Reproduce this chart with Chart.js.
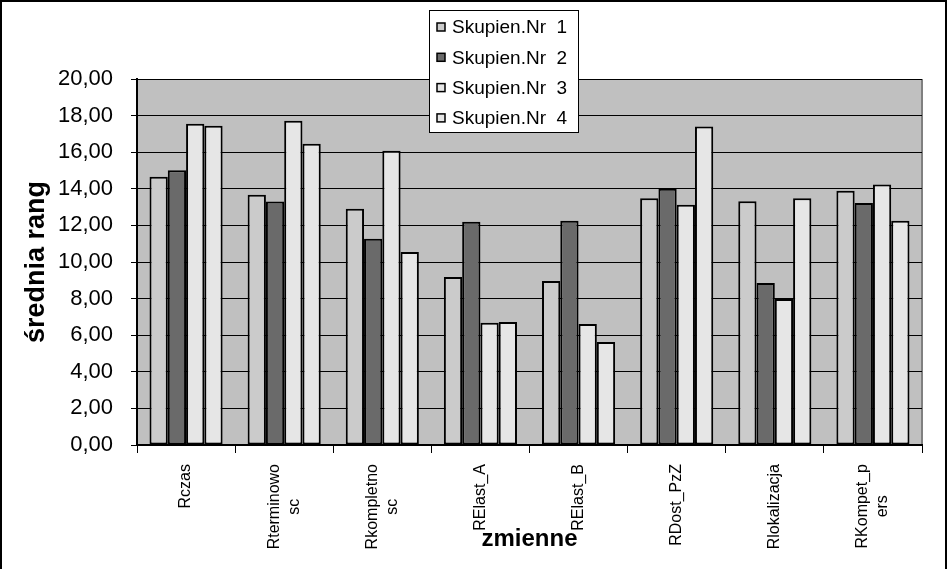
<!DOCTYPE html>
<html>
<head>
<meta charset="utf-8">
<script src="https://cdn.jsdelivr.net/npm/chart.js@4"></script>
<style>
    body { margin: 0; background: #fff; }
    #wrap { width: 947px; height: 569px; }
</style>
</head>
<body>
<div id="wrap"><canvas id="meansChart" width="947" height="569"></canvas></div>
<script>
const categories = [
    ["Rczas"], ["Rterminowo", "sc"], ["Rkompletno", "sc"], ["RElast_A"],
    ["RElast_B"], ["RDost_PzZ"], ["Rlokalizacja"], ["RKompet_p", "ers"]
];
const seriesNames = ["Skupien.Nr  1", "Skupien.Nr  2", "Skupien.Nr  3", "Skupien.Nr  4"];
const cluster1 = [14.66, 13.68, 12.91, 9.18, 8.96, 13.48, 13.32, 13.90];
const cluster2 = [15.01, 13.30, 11.27, 12.20, 12.26, 14.00, 8.85, 13.22];
const cluster3 = [17.56, 17.72, 16.08, 6.68, 6.61, 13.13, 7.98, 14.24];
const cluster4 = [17.45, 16.46, 10.55, 6.72, 5.63, 17.41, 13.48, 12.25];
const seriesColors = ['#cbcbcb', '#6a6a6a', '#e6e6e6', '#e6e6e6'];
const yMin = 0, yMax = 20, yStep = 2;

const FONT = "'Liberation Sans', Arial, sans-serif";

// frame + gray plot area
const backdrop = {
    id: 'backdrop',
    beforeDraw(chart) {
        const c = chart.ctx, a = chart.chartArea;
        c.save();
        c.fillStyle = '#c0c0c0';
        c.fillRect(a.left, a.top, a.right - a.left, a.bottom - a.top);
        c.strokeStyle = '#808080';
        c.lineWidth = 2;
        c.beginPath();
        c.moveTo(a.right, a.top);
        c.lineTo(a.right, a.bottom);
        c.stroke();
        c.restore();
    },
    afterDraw(chart) {
        const c = chart.ctx;
        c.save();
        c.strokeStyle = '#000';
        c.lineWidth = 2;
        c.strokeRect(1, 1, chart.width - 2, chart.height + 10);
        c.restore();
    }
};

// vertical category labels, short lines centred on the long one
const catLabels = {
    id: 'catLabels',
    afterDraw(chart) {
        const c = chart.ctx, xs = chart.scales.x;
        const top = xs.top + 19, lineH = 20;
        c.save();
        c.font = '16px ' + FONT;
        c.fillStyle = '#000';
        c.textAlign = 'center';
        c.textBaseline = 'middle';
        chart.data.labels.forEach((lines, i) => {
            const x = xs.getPixelForTick(i);
            const w = Math.max(...lines.map(l => c.measureText(l).width));
            c.save();
            c.translate(x, top);
            c.rotate(-Math.PI / 2);
            lines.forEach((l, j) => {
                c.fillText(l, -w / 2, (j - (lines.length - 1) / 2) * lineH);
            });
            c.restore();
        });
        c.restore();
    }
};

// boxed legend overlapping the plot
const boxLegend = {
    id: 'boxLegend',
    afterDraw(chart) {
        const c = chart.ctx;
        const x0 = 429, y0 = 10, w = 149, h = 122, rowH = 30.3;
        c.save();
        c.fillStyle = '#fff';
        c.fillRect(x0, y0, w, h);
        c.strokeStyle = '#000';
        c.lineWidth = 1;
        c.strokeRect(x0 + 0.5, y0 + 0.5, w, h);
        c.font = '19px ' + FONT;
        c.textBaseline = 'middle';
        chart.data.datasets.forEach((ds, i) => {
            const cy = y0 + 17 + i * rowH;
            c.fillStyle = ds.backgroundColor;
            c.fillRect(437, cy - 4, 8, 8);
            c.lineWidth = 1.5;
            c.strokeRect(437, cy - 4, 8, 8);
            c.fillStyle = '#000';
            c.fillText(ds.label, 452, cy + 1);
        });
        c.restore();
    }
};

const allSeries = [cluster1, cluster2, cluster3, cluster4];

new Chart(document.getElementById('meansChart'), {
    type: 'bar',
    data: {
        labels: categories,
        datasets: allSeries.map((vals, i) => ({
            label: seriesNames[i],
            data: vals,
            backgroundColor: seriesColors[i],
            borderColor: '#000',
            borderWidth: 2,
            borderSkipped: false,
            categoryPercentage: 0.745,
            barPercentage: 1.0
        }))
    },
    options: {
        responsive: false,
        animation: false,
        layout: {
            padding: { top: 79, right: 25, left: 0, bottom: 0 }
        },
        plugins: {
            legend: false,
            tooltip: { enabled: false }
        },
        scales: {
            x: {
                grid: {
                    offset: true,
                    drawOnChartArea: false,
                    color: '#000',
                    tickLength: 8
                },
                border: { color: '#000', width: 2 },
                ticks: { display: false },
                title: {
                    display: true,
                    text: 'zmienne',
                    color: '#000',
                    font: { family: FONT, size: 24, weight: 'bold' },
                    padding: { top: 0, bottom: 15 }
                },
                afterFit(scale) { scale.height = 124; }
            },
            y: {
                min: yMin,
                max: yMax,
                grid: {
                    color: '#000',
                    tickLength: 6
                },
                border: { color: '#000', width: 2 },
                ticks: {
                    stepSize: yStep,
                    padding: 18,
                    color: '#000',
                    font: { family: FONT, size: 22 },
                    callback: v => v.toFixed(2).replace('.', ',')
                },
                title: {
                    display: true,
                    text: 'średnia rang',
                    color: '#000',
                    font: { family: FONT, size: 27, weight: 'bold' },
                    padding: { top: 20, bottom: 0 }
                },
                afterFit(scale) { scale.width = 137; }
            }
        }
    },
    plugins: [backdrop, catLabels, boxLegend]
});
</script>
</body>
</html>
